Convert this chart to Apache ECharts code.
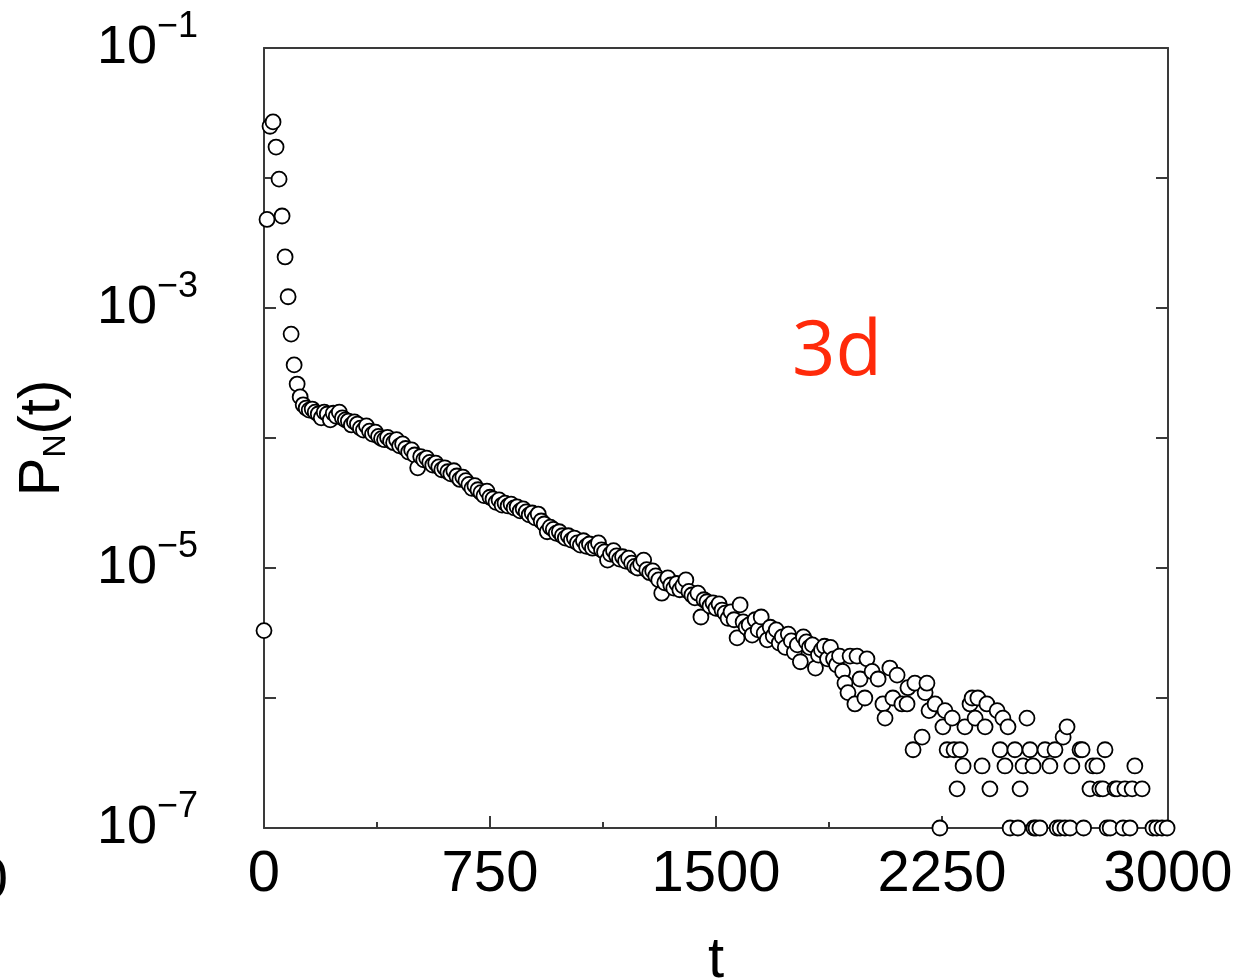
<!DOCTYPE html>
<html><head><meta charset="utf-8">
<script src="https://cdn.jsdelivr.net/npm/echarts/dist/echarts.min.js"></script>
<style>html,body{margin:0;padding:0;background:#fff}#c{width:1238px;height:978px}</style>
</head><body><div id="c"></div>
<script>
// time values t
const tValues = [
  0,10,20,30,40,50,60,70,80,90,100,110,120,
  130,140,150,160,170,180,190,200,210,220,230,240,250,260,270,280,290,300,
  310,320,330,340,350,360,370,380,390,400,410,420,430,440,450,460,470,480,490,500,
  510,520,530,540,550,560,570,580,590,600,610,620,630,640,650,660,670,680,690,700,
  710,720,730,740,750,760,770,780,790,800,810,820,830,840,850,860,870,880,890,900,
  910,920,930,940,950,960,970,980,990,1000,1010,1020,1030,1040,1050,1060,1070,1080,1090,1100,
  1110,1120,1130,1140,1150,1160,1170,1180,1190,1200,1210,1220,1230,1240,1250,1260,1270,1280,1290,1300,
  1310,1320,1330,1340,1350,1360,1370,1380,1390,1400,1410,1420,1430,1440,1450,1460,1470,1480,1490,1500,
  1510,1520,1530,1540,1550,1560,1570,1580,1590,1600,1610,1620,1630,1640,1650,1660,1670,1680,1690,1700,
  1710,1720,1730,1740,1750,1760,1770,1780,1790,1800,1810,1820,1830,1840,1850,1860,1870,1880,1890,1900,
  1910,1920,
  1928,1938,1945,1961,1968,1978,1994,2001,2018,2038,2054,2061,2077,2087,2101,2117,2134,2137,2154,2160,
  2184,2194,2200,2207,2227,2243,2253,2260,2267,2284,2290,2300,2310,2320,2326,2343,2350,2360,2369,2383,
  2393,2399,2409,2433,2443,2452,2459,2469,2476,2492,2502,2509,2519,2532,2542,2552,2555,2562,2575,2592,
  2608,2625,2632,2642,2652,2658,2665,2675,2681,2708,2715,2720,2741,2751,2764,2774,2784,2791,2798,2808,
  2824,2831,2851,2857,2874,2881,2890,2914,2950,2963,2980,2997
];
// probability P_N(t)
const pValues = [
  3.3e-6,4.8e-3,2.5e-2,2.7e-2,1.73e-2,9.8e-3,5.1e-3,2.47e-3,1.22e-3,6.3e-4,3.65e-4,2.6e-4,2.07e-4,
  1.8e-4,1.7e-4,1.64e-4,1.67e-4,1.58e-4,1.53e-4,1.43e-4,1.58e-4,1.53e-4,1.38e-4,1.55e-4,1.47e-4,1.58e-4,1.43e-4,1.38e-4,1.35e-4,1.26e-4,1.33e-4,
  1.28e-4,1.19e-4,1.15e-4,1.24e-4,1.13e-4,1.07e-4,1.11e-4,1.03e-4,9.9e-5,9.7e-5,1.01e-4,9.5e-5,9.2e-5,9.7e-5,8.7e-5,9.0e-5,8.3e-5,7.8e-5,8.1e-5,7.4e-5,
  5.9e-5,7.2e-5,6.8e-5,7.0e-5,6.5e-5,6.2e-5,6.4e-5,6.0e-5,5.7e-5,5.9e-5,5.5e-5,5.3e-5,5.6e-5,5.1e-5,4.8e-5,5.0e-5,4.7e-5,4.4e-5,4.1e-5,4.3e-5,
  4.0e-5,3.8e-5,3.6e-5,3.9e-5,3.5e-5,3.4e-5,3.2e-5,3.34e-5,3.05e-5,3.15e-5,3.0e-5,3.1e-5,2.9e-5,2.95e-5,2.75e-5,2.85e-5,2.7e-5,2.56e-5,2.65e-5,2.43e-5,
  2.6e-5,2.3e-5,2.18e-5,1.9e-5,2.06e-5,1.98e-5,1.85e-5,1.9e-5,1.77e-5,1.7e-5,1.77e-5,1.64e-5,1.7e-5,1.56e-5,1.5e-5,1.62e-5,1.47e-5,1.53e-5,1.42e-5,1.47e-5,
  1.56e-5,1.38e-5,1.33e-5,1.15e-5,1.28e-5,1.36e-5,1.24e-5,1.17e-5,1.22e-5,1.13e-5,1.19e-5,1.09e-5,1.03e-5,1.0e-5,1.07e-5,1.15e-5,9.7e-6,9.2e-6,9.5e-6,8.7e-6,
  8.1e-6,6.4e-6,7.7e-6,8.4e-6,7.4e-6,7.0e-6,7.6e-6,6.8e-6,7.3e-6,8.1e-6,6.6e-6,6.2e-6,5.9e-6,6.4e-6,4.2e-6,5.7e-6,5.5e-6,5.1e-6,5.4e-6,4.9e-6,
  5.3e-6,4.75e-6,4.5e-6,4.1e-6,4.6e-6,4.0e-6,2.9e-6,5.2e-6,3.85e-6,3.5e-6,3.65e-6,3.05e-6,4.0e-6,3.34e-6,4.2e-6,3.15e-6,2.8e-6,3.5e-6,3.0e-6,3.34e-6,
  2.65e-6,2.95e-6,2.45e-6,3.1e-6,2.75e-6,2.25e-6,2.56e-6,1.9e-6,2.95e-6,2.7e-6,2.45e-6,2.56e-6,1.7e-6,2.14e-6,2.34e-6,2.5e-6,2.0e-6,2.45e-6,2.0e-6,1.8e-6,
  2.1e-6,1.6e-6,
  1.3e-6,1.1e-6,2.1e-6,9e-7,2.1e-6,1.4e-6,1.0e-6,2.0e-6,1.6e-6,1.4e-6,9e-7,7e-7,1.7e-6,1.0e-6,1.5e-6,9e-7,9e-7,1.2e-6,4e-7,1.3e-6,
  5e-7,1.1e-6,1.3e-6,8e-7,9e-7,1e-7,6e-7,8e-7,4e-7,7e-7,4e-7,2e-7,4e-7,3e-7,6e-7,9e-7,1.0e-6,7e-7,1.0e-6,3e-7,
  6e-7,9e-7,2e-7,8e-7,4e-7,7e-7,3e-7,6e-7,1e-7,4e-7,1e-7,2e-7,3e-7,7e-7,4e-7,3e-7,1e-7,1e-7,1e-7,4e-7,
  3e-7,4e-7,1e-7,1e-7,5e-7,1e-7,6e-7,1e-7,3e-7,4e-7,4e-7,1e-7,2e-7,3e-7,3e-7,2e-7,2e-7,4e-7,1e-7,1e-7,
  2e-7,2e-7,1e-7,2e-7,1e-7,2e-7,3e-7,2e-7,1e-7,1e-7,1e-7,1e-7
];
const xTickLabels = ['0', '750', '1500', '2250', '3000'];
const yLabelExponents = [-1, -3, -5, -7];

const chart = echarts.init(document.getElementById('c'), null, {renderer: 'canvas'});
const points = tValues.map((t, i) => [t, pValues[i]]);
const FONT = 'Liberation Sans';
const axisLineStyle = {color: '#3a3a3a', width: 2};

chart.setOption({
  animation: false,
  backgroundColor: '#fff',
  grid: {left: 264, right: 70, top: 48, bottom: 150, containLabel: false, outerBoundsMode: 'none'},
  xAxis: [{
    type: 'value', min: 0, max: 3000, interval: 750,
    axisLine: {show: true, onZero: false, lineStyle: axisLineStyle},
    axisTick: {show: true, inside: true, length: 12, lineStyle: axisLineStyle},
    minorTick: {show: true, splitNumber: 2, length: 6, lineStyle: axisLineStyle},
    splitLine: {show: false},
    axisLabel: {
      margin: 18, fontFamily: FONT, fontSize: 58, color: '#000',
      formatter: v => xTickLabels.includes(String(v)) ? String(v) : ''
    },
    name: 't', nameLocation: 'middle', nameGap: 104,
    nameTextStyle: {fontFamily: FONT, fontSize: 58, color: '#000'}
  }, {
    type: 'value', min: 0, max: 3000, interval: 750, position: 'top',
    axisLine: {show: true, onZero: false, lineStyle: axisLineStyle},
    axisTick: {show: false}, axisLabel: {show: false}, splitLine: {show: false}
  }],
  yAxis: [{
    type: 'log', logBase: 10, min: 1e-7, max: 1e-1, splitNumber: 6,
    axisLine: {show: true, onZero: false, lineStyle: axisLineStyle},
    axisTick: {show: true, inside: true, length: 12, lineStyle: axisLineStyle},
    splitLine: {show: false},
    axisLabel: {
      margin: 66, fontFamily: FONT, color: '#000',
      formatter: v => {
        const e = Math.round(Math.log10(v));
        return yLabelExponents.includes(e) ? '{b|10}{s|\u2212' + (-e) + '}' : '';
      },
      rich: {
        b: {fontFamily: FONT, fontSize: 54, lineHeight: 78, verticalAlign: 'middle', color: '#000'},
        s: {fontFamily: FONT, fontSize: 36, lineHeight: 36, verticalAlign: 'top', color: '#000'}
      }
    },
    name: '{p|P}{n|N}{p|(t)}', nameLocation: 'middle', nameGap: 192, nameRotate: 90,
    nameTextStyle: {
      rich: {
        p: {fontFamily: FONT, fontSize: 58, lineHeight: 58, verticalAlign: 'top', color: '#000'},
        n: {fontFamily: FONT, fontSize: 32, lineHeight: 32, padding: [32, 0, 0, 0], verticalAlign: 'bottom', color: '#000'}
      }
    }
  }, {
    type: 'log', logBase: 10, min: 1e-7, max: 1e-1, splitNumber: 6, position: 'right',
    axisLine: {show: true, onZero: false, lineStyle: axisLineStyle},
    axisTick: {show: true, inside: true, length: 12, lineStyle: axisLineStyle},
    axisLabel: {show: false}, splitLine: {show: false}
  }],
  graphic: [
    {type: 'text', left: 792, top: 315, style: {text: '3d', fontFamily: 'Open Sans', fontSize: 76, fill: '#ff2a0a'}},
    {type: 'text', right: 1230, top: 853, style: {text: '0', fontFamily: FONT, fontSize: 58, fill: '#000'}}
  ],
  series: [{
    type: 'scatter', xAxisIndex: 0, yAxisIndex: 0, clip: false,
    symbol: 'circle', symbolSize: 15,
    itemStyle: {color: '#fff', borderColor: '#000', borderWidth: 1.8, opacity: 1},
    data: points
  }]
});
</script>
</body></html>
